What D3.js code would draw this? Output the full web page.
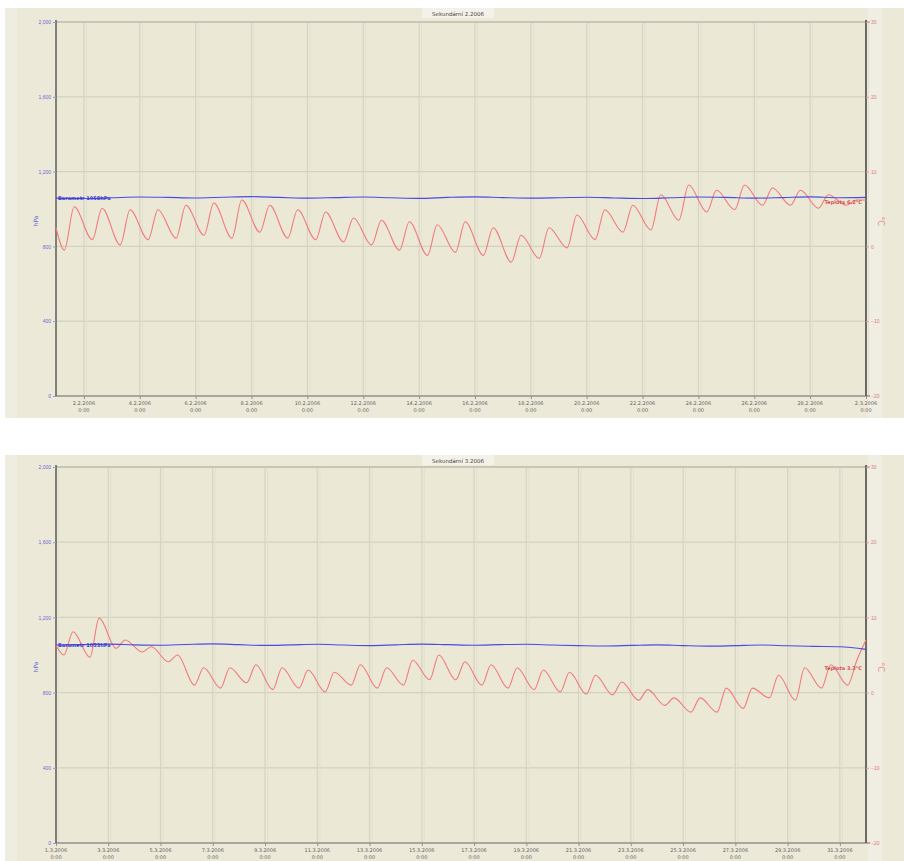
<!DOCTYPE html>
<html><head><meta charset="utf-8">
<script src="https://cdn.jsdelivr.net/npm/d3@7"></script>
<style>
html,body{margin:0;padding:0;background:#fff;}
svg{display:block;font-family:"DejaVu Sans",sans-serif;}
</style></head>
<body><svg id="c" width="904" height="861"></svg>
<script>
// ---------- DATA ----------
const titles = ["Sekundární 2.2006", "Sekundární 3.2006"];
const startDates = ["1.2.2006", "1.3.2006"];
const endDates = ["2.3.2006", "1.4.2006"];
const tickLabelsTop = ["2.2.2006","4.2.2006","6.2.2006","8.2.2006","10.2.2006","12.2.2006","14.2.2006","16.2.2006","18.2.2006","20.2.2006","22.2.2006","24.2.2006","26.2.2006","28.2.2006","2.3.2006"];
const tickLabelsBottom = ["1.3.2006","3.3.2006","5.3.2006","7.3.2006","9.3.2006","11.3.2006","13.3.2006","15.3.2006","17.3.2006","19.3.2006","21.3.2006","23.3.2006","25.3.2006","27.3.2006","29.3.2006","31.3.2006"];
const leftTicks = [0, 400, 800, 1200, 1600, 2000];
const rightTicks = [-20, -10, 0, 10, 20, 30];
const leftAxisTitle = "hPa";
const rightAxisTitle = "°C";

// temperature: daily lows (early morning) and highs (afternoon)
const tempStartTop = 2.5, tempEndTop = 6.2;
const tempLowTop  = [-0.5,0.9,0.2,0.9,1.1,1.5,1.1,1.9,1.1,0.9,0.6,0.2,-0.5,-1.2,-0.8,-1.2,-2.1,-1.6,-0.2,0.9,1.9,2.2,3.5,4.6,4.9,5.5,5.5,5.1,5.5];
const tempHighTop = [5.3,5.1,4.9,4.9,5.5,5.8,6.2,5.5,4.9,4.6,3.8,3.5,3.3,2.9,3.3,2.5,1.5,2.5,4.2,4.9,5.5,6.9,8.2,7.5,8.2,7.8,7.5,6.9,6.2];
const tempStartBottom = 6.3, tempEndBottom = 7.0;
const tempLowBottom  = [5.0,4.7,5.9,5.4,4.1,1.0,0.6,1.3,0.4,0.6,0.1,1.0,0.6,1.0,1.7,1.7,1.0,0.6,0.4,0.1,-0.2,-0.3,-1.0,-1.7,-2.6,-2.6,-2.1,-0.7,-1.0,0.6,1.0];
const tempHighBottom = [8.1,9.9,7.0,6.1,5.0,3.3,3.3,3.7,3.3,3.0,2.7,3.7,3.3,4.3,5.0,4.1,3.7,3.3,3.0,2.7,2.3,1.4,0.4,-0.7,-0.7,0.6,0.6,2.3,3.3,3.7,4.3];
// pressure: one value per day boundary
const pressTop = [1058,1056,1060,1064,1062,1059,1063,1066,1062,1058,1061,1064,1060,1057,1062,1065,1061,1058,1060,1063,1059,1056,1060,1064,1062,1058,1061,1065,1060,1062];
const pressBottom = [1053,1055,1058,1054,1052,1056,1059,1055,1051,1054,1057,1053,1050,1054,1058,1055,1052,1055,1057,1053,1050,1048,1051,1054,1050,1047,1050,1053,1049,1046,1044,1030];
const pressLabels = ["Barometr 1058hPa", "Barometr 1053hPa"];
const tempLabels = ["Teplota 6.2°C", "Teplota 3.3°C"];
const tempLabelVals = [6.0, 3.3];

// ---------- DRAW ----------
const parse = d3.timeParse("%d.%m.%Y");
const svg = d3.select("#c");
const DAY = 864e5;

const panels = [
  {bg:[5,8,899,410], plot:[56,22,866,396], ticks:tickLabelsTop, low:tempLowTop, high:tempHighTop, t0:tempStartTop, t1:tempEndTop, press:pressTop},
  {bg:[5,455,899,406], plot:[56,467,866,843], ticks:tickLabelsBottom, low:tempLowBottom, high:tempHighBottom, t0:tempStartBottom, t1:tempEndBottom, press:pressBottom}
];

panels.forEach((p, pi) => {
  const g = svg.append("g");
  const [x0,y0,x1,y1] = p.plot;
  g.append("rect").attr("x",p.bg[0]).attr("y",p.bg[1]).attr("width",p.bg[2]).attr("height",p.bg[3]).attr("fill","#ece9d8");
  g.append("rect").attr("x",p.bg[0]).attr("y",p.bg[1]).attr("width",12).attr("height",p.bg[3]).attr("fill","#efede0");
  g.append("rect").attr("x",x0).attr("y",y0).attr("width",x1-x0).attr("height",y1-y0).attr("fill","#ebe8d6");
  g.append("rect").attr("x",868).attr("y",p.bg[1]).attr("width",14).attr("height",p.bg[3]).attr("fill","#f0eee3");

  const start = parse(startDates[pi]), end = parse(endDates[pi]);
  const x = d3.scaleTime().domain([start,end]).range([x0,x1]);
  const yL = d3.scaleLinear().domain([0,2000]).range([y1,y0]);
  const yR = d3.scaleLinear().domain([-20,30]).range([y1,y0]);

  // horizontal grid
  g.append("g").selectAll("line").data(leftTicks.slice(1,-1)).join("line")
    .attr("x1",x0).attr("x2",x1).attr("y1",d=>yL(d)).attr("y2",d=>yL(d))
    .attr("stroke","#d4d1c0").attr("stroke-width",1.2);
  // vertical grid
  const tickDates = p.ticks.map(parse);
  g.append("g").selectAll("line").data(tickDates).join("line")
    .attr("x1",d=>x(d)).attr("x2",d=>x(d)).attr("y1",y0).attr("y2",y1)
    .attr("stroke","#d6d3c3").attr("stroke-width",1.2);
  g.append("g").selectAll("line").data(tickDates).join("line")
    .attr("x1",d=>x(d)+2.5).attr("x2",d=>x(d)+2.5).attr("y1",y0).attr("y2",y1)
    .attr("stroke","#e3e0d0").attr("stroke-width",1);

  // frame
  g.append("line").attr("x1",x0).attr("x2",x1+4).attr("y1",y0).attr("y2",y0).attr("stroke","#c9c6b5").attr("stroke-width",2);
  g.append("line").attr("x1",x0).attr("x2",x1+4).attr("y1",y1).attr("y2",y1).attr("stroke","#93918a").attr("stroke-width",1.5);
  g.append("line").attr("x1",x0).attr("x2",x0).attr("y1",y0-2).attr("y2",y1).attr("stroke","#5e5d58").attr("stroke-width",1.5);
  g.append("line").attr("x1",x1).attr("x2",x1).attr("y1",y0-2).attr("y2",y1).attr("stroke","#5e5d58").attr("stroke-width",1.8);

  // left axis
  const axL = d3.axisLeft(yL).tickValues(leftTicks).tickSize(3).tickPadding(2);
  const gl = g.append("g").attr("transform",`translate(${x0},0)`).call(axL);
  gl.select(".domain").remove();
  gl.selectAll("line").attr("stroke","#9a9ad0");
  gl.selectAll("text").attr("fill","#6a6ad0").attr("font-size",5);
  // right axis
  const axR = d3.axisRight(yR).tickValues(rightTicks).tickSize(3).tickPadding(2);
  const gr = g.append("g").attr("transform",`translate(${x1},0)`).call(axR);
  gr.select(".domain").remove();
  gr.selectAll("line").attr("stroke","#e09a9a");
  gr.selectAll("text").attr("fill","#e07878").attr("font-size",5);
  // bottom axis
  const axB = d3.axisBottom(x).tickValues(tickDates).tickSize(3).tickFormat("");
  const gb = g.append("g").attr("transform",`translate(0,${y1})`).call(axB);
  gb.select(".domain").remove();
  gb.selectAll("line").attr("stroke","#93918a");
  const lab = g.append("g").selectAll("text").data(tickDates).join("text")
    .attr("x",d=>x(d)).attr("y",y1+9).attr("text-anchor","middle")
    .attr("font-size",5).attr("fill","#66655f");
  lab.append("tspan").attr("x",d=>x(d)).text((d,i)=>p.ticks[i]);
  lab.append("tspan").attr("x",d=>x(d)).attr("dy",7).text("0:00");

  // axis titles
  g.append("text").attr("transform",`translate(38,${(y0+y1)/2+12}) rotate(-90)`)
    .attr("text-anchor","middle").attr("font-size",6).attr("fill","#6a6ad0").text(leftAxisTitle);
  g.append("text").attr("transform",`translate(878,${(y0+y1)/2+12}) rotate(90)`)
    .attr("text-anchor","middle").attr("font-size",8).attr("fill","#e88a8a").text(rightAxisTitle);

  // title
  const tx = 458, ty = p.bg[1];
  g.append("rect").attr("x",tx-36).attr("y",ty).attr("width",72).attr("height",10).attr("fill","#f4f2e8");
  g.append("text").attr("x",tx).attr("y",ty+7.5).attr("text-anchor","middle").attr("font-size",5.5).attr("fill","#444").text(titles[pi]);

  // temperature series
  const tpts = [[start, p.t0]];
  p.low.forEach((v,i)=>{
    tpts.push([new Date(+start + (i+0.3)*DAY), v]);
    tpts.push([new Date(+start + (i+0.65)*DAY), p.high[i]]);
  });
  tpts.push([end, p.t1]);
  g.append("path").datum(tpts)
    .attr("d", d3.line().x(d=>x(d[0])).y(d=>yR(d[1])).curve(d3.curveMonotoneX))
    .attr("fill","none").attr("stroke","#f27a7a").attr("stroke-width",1.1);

  // pressure series
  const ppts = p.press.map((v,i)=>[new Date(+start + i*DAY), v]);
  g.append("path").datum(ppts)
    .attr("d", d3.line().x(d=>x(d[0])).y(d=>yL(d[1])).curve(d3.curveMonotoneX))
    .attr("fill","none").attr("stroke","#4a4ae6").attr("stroke-width",1.1);

  // series labels
  g.append("text").attr("x",x0+2).attr("y",yL(p.press[0])+2).attr("font-size",5)
    .attr("font-weight","bold").attr("fill","#3a3ad0").text(pressLabels[pi]);
  g.append("text").attr("x",x1-4).attr("y",yR(tempLabelVals[pi])+2).attr("text-anchor","end").attr("font-size",5)
    .attr("font-weight","bold").attr("fill","#d85050").text(tempLabels[pi]);
});
</script></body></html>
